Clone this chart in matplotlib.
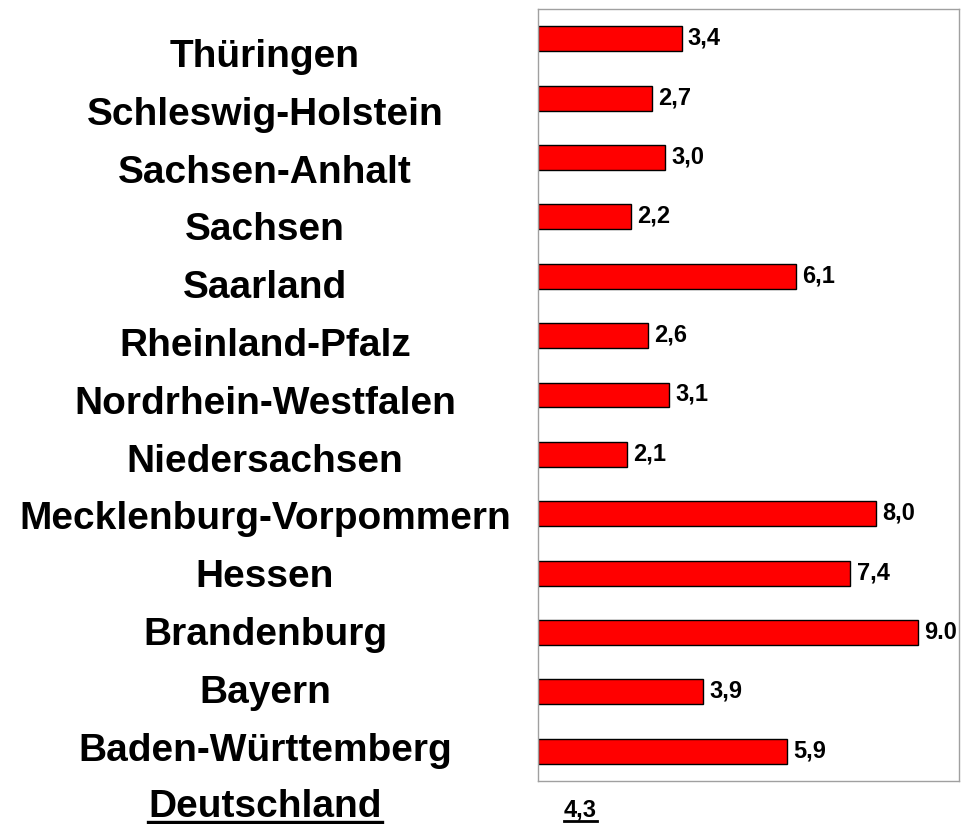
import matplotlib
matplotlib.use('Agg')
import matplotlib.pyplot as plt
from matplotlib.lines import Line2D

plt.rcParams['font.family'] = ['Liberation Sans', 'DejaVu Sans']

# Daten (von unten nach oben)
laender = ["Baden-Württemberg", "Bayern", "Brandenburg", "Hessen",
           "Mecklenburg-Vorpommern", "Niedersachsen", "Nordrhein-Westfalen",
           "Rheinland-Pfalz", "Saarland", "Sachsen", "Sachsen-Anhalt",
           "Schleswig-Holstein", "Thüringen"]
werte = [5.9, 3.9, 9.0, 7.4, 8.0, 2.1, 3.1, 2.6, 6.1, 2.2, 3.0, 2.7, 3.4]
werte_labels = ["5,9", "3,9", "9.0", "7,4", "8,0", "2,1", "3,1", "2,6",
                "6,1", "2,2", "3,0", "2,7", "3,4"]
gesamt_label = "Deutschland"
gesamt_wert = "4,3"

W_PX, H_PX = 961, 824
fig = plt.figure(figsize=(W_PX / 100, H_PX / 100), dpi=100)
ax = fig.add_axes([538 / W_PX, 1 - 781 / H_PX, 421 / W_PX, 772 / H_PX])

pos = list(range(len(laender)))
ax.barh(pos, werte, height=0.42, color='#ff0000', edgecolor='black', linewidth=1)

ax.set_xlim(0, 9.97)
ax.set_ylim(-0.5, len(laender) - 0.5)
ax.set_xticks([])
ax.set_yticks([])
for s in ax.spines.values():
    s.set_color('#a0a0a0')
    s.set_linewidth(1)

# Werte an den Balken
for p, w, lab in zip(pos, werte, werte_labels):
    ax.annotate(lab, (w, p), xytext=(4.5, -4.3), textcoords='offset points',
                ha='left', va='baseline', fontsize=17, fontweight='bold')

# Ländernamen links (gleichmäßig verteilt, Grundlinie in Pixeln von oben)
x_mitte = 265 / W_PX
basis0, abstand = 67, 57.8
for k, name in enumerate(reversed(laender)):
    y = 1 - (basis0 + k * abstand) / H_PX
    fig.text(x_mitte, y, name, ha='center', va='baseline',
             fontsize=28, fontweight='bold')

# Deutschland unterhalb, unterstrichen
basis_d = 817
t1 = fig.text(x_mitte, 1 - basis_d / H_PX, gesamt_label, ha='center',
              va='baseline', fontsize=28, fontweight='bold')
t2 = fig.text(564 / W_PX, 1 - basis_d / H_PX, gesamt_wert, ha='left',
              va='baseline', fontsize=17, fontweight='bold')

fig.canvas.draw()
r = fig.canvas.get_renderer()
for t, lw, d in [(t1, 2.4, 5), (t2, 2.0, 3.5)]:
    bb = t.get_window_extent(r)
    y = 1 - (basis_d + d) / H_PX
    fig.add_artist(Line2D([bb.x0 / W_PX, bb.x1 / W_PX], [y, y], color='black',
                          linewidth=lw, transform=fig.transFigure))

fig.savefig('out.png', dpi=100)
